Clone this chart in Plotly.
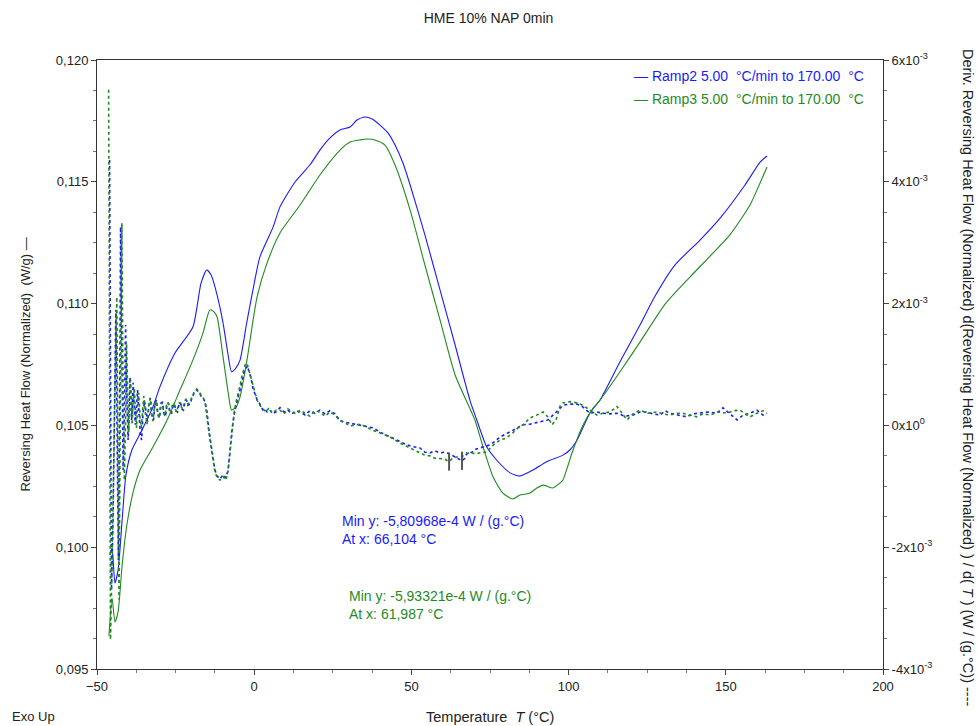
import plotly.graph_objects as go

# ---- chart text ----
title_text = "HME 10% NAP 0min"
ramp_labels = ["Ramp2 5.00\u00a0\u00a0°C/min to 170.00\u00a0\u00a0°C",
               "Ramp3 5.00\u00a0\u00a0°C/min to 170.00\u00a0\u00a0°C"]
series_colors = ["#1a1aff", "#1f8a1f"]

# ---- axis ticks ----
x_ticks = [-50, 0, 50, 100, 150, 200]
left_ticks = [0.095, 0.100, 0.105, 0.110, 0.115, 0.120]
left_tick_text = ["0,095", "0,100", "0,105", "0,110", "0,115", "0,120"]
right_ticks = [-4e-3, -2e-3, 0.0, 2e-3, 4e-3, 6e-3]
right_tick_text = ["-4x10<sup>-3</sup>", "-2x10<sup>-3</sup>", "0x10<sup>0</sup>",
                   "2x10<sup>-3</sup>", "4x10<sup>-3</sup>", "6x10<sup>-3</sup>"]

# ---- Reversing heat flow (W/g) vs temperature (°C) ----
ramp2_rhf = [(-45.9, 0.09968), (-45.2, 0.09997), (-44.3, 0.09853), (-43.3, 0.09906),
             (-42.0, 0.10112), (-40.8, 0.10296), (-38.9, 0.10399), (-36.0, 0.10473),
             (-32.2, 0.10576), (-30.0, 0.10658), (-25.2, 0.10797), (-19.5, 0.10904),
             (-16.9, 0.11085), (-15.1, 0.11138), (-13.7, 0.11117), (-11.8, 0.11035),
             (-9.9, 0.10920), (-8.3, 0.10789), (-7.2, 0.10720), (-5.8, 0.10736),
             (-4.5, 0.10768), (-2.4, 0.10920), (-0.4, 0.11056), (1.8, 0.11191),
             (6.0, 0.11314), (8.2, 0.11397), (13.0, 0.11499), (17.7, 0.11569),
             (20.9, 0.11630), (24.1, 0.11680), (27.3, 0.11713), (30.5, 0.11725),
             (32.7, 0.11754), (35.2, 0.11766), (37.5, 0.11758), (40.0, 0.11733),
             (42.6, 0.11700), (44.8, 0.11651), (47.3, 0.11577), (49.6, 0.11487),
             (54.3, 0.11282), (59.1, 0.11056), (63.9, 0.10830), (68.6, 0.10604),
             (70.8, 0.10522), (73.9, 0.10413), (77.1, 0.10358), (81.4, 0.10305),
             (84.5, 0.10292), (88.7, 0.10317), (93.0, 0.10351), (98.2, 0.10378),
             (100.4, 0.10399), (102.7, 0.10440), (106.8, 0.10551), (110.0, 0.10604),
             (116.3, 0.10760), (122.7, 0.10912), (127.5, 0.11031), (133.8, 0.11158),
             (141.8, 0.11261), (148.2, 0.11351), (156.1, 0.11487), (160.9, 0.11581),
             (163.1, 0.11606)]

ramp3_rhf = [(-46.2, 0.09635), (-45.2, 0.09791), (-44.3, 0.09693), (-43.3, 0.09734),
             (-42.0, 0.09927), (-40.5, 0.10091), (-38.5, 0.10227), (-36.3, 0.10317),
             (-32.2, 0.10411), (-27.7, 0.10522), (-23.6, 0.10645), (-19.5, 0.10768),
             (-16.3, 0.10879), (-14.1, 0.10974), (-12.8, 0.10966), (-11.8, 0.10945),
             (-9.9, 0.10781), (-8.3, 0.10637), (-7.2, 0.10563), (-5.8, 0.10575),
             (-4.5, 0.10617), (-2.3, 0.10768), (0.9, 0.11027), (4.1, 0.11167),
             (8.2, 0.11290), (14.6, 0.11405), (20.9, 0.11528), (27.3, 0.11630),
             (30.5, 0.11663), (33.7, 0.11672), (36.2, 0.11676), (38.4, 0.11672),
             (41.6, 0.11651), (44.8, 0.11569), (49.6, 0.11384), (54.3, 0.11158),
             (59.1, 0.10933), (63.9, 0.10707), (70.2, 0.10522), (72.8, 0.10411),
             (76.0, 0.10288), (79.1, 0.10222), (82.3, 0.10198), (84.5, 0.10214),
             (87.7, 0.10222), (89.9, 0.10243), (91.9, 0.10255), (95.0, 0.10243),
             (97.3, 0.10264), (98.2, 0.10276), (101.4, 0.10399), (104.6, 0.10502),
             (107.8, 0.10571), (110.0, 0.10604), (116.3, 0.10719), (122.7, 0.10842),
             (130.7, 0.10998), (138.6, 0.11109), (145.0, 0.11195), (151.3, 0.11282),
             (157.7, 0.11405), (160.9, 0.11495), (163.1, 0.11561)]

# ---- d(RHF)/dT, in units of 1e-3 W/(g.°C) ----
ramp2_deriv = [(-46.0, 4.36), (-45.7, 0.09), (-45.4, -2.70), (-44.9, -1.55), (-44.4, 0.09),
               (-44.0, 1.90), (-43.5, -0.73), (-43.2, -2.21), (-42.8, 0.42), (-42.5, 3.26),
               (-42.0, 0.75), (-41.7, -0.73), (-41.3, 0.20), (-40.9, 1.65), (-40.5, 0.42),
               (-40.1, -0.24), (-39.8, 0.25), (-39.5, 0.79), (-39.2, 0.42), (-39.0, 0.09),
               (-38.7, 0.42), (-38.5, 0.70), (-38.1, 0.25), (-37.8, 0.01), (-37.4, 0.33),
               (-37.1, 0.58), (-36.6, 0.17), (-36.2, -0.16), (-35.8, -0.24), (-35.4, 0.17),
               (-34.9, 0.40), (-34.4, 0.22), (-33.9, 0.06), (-33.5, 0.33), (-33.0, 0.45),
               (-32.5, 0.17), (-32.0, 0.09), (-31.6, 0.35), (-31.1, 0.42), (-30.6, 0.19),
               (-30.1, 0.12), (-29.6, 0.37), (-29.2, 0.38), (-28.7, 0.20), (-28.2, 0.15),
               (-27.7, 0.35), (-27.3, 0.37), (-26.8, 0.22), (-26.3, 0.19), (-25.8, 0.33),
               (-25.4, 0.35), (-24.9, 0.24), (-24.4, 0.22), (-23.9, 0.35), (-23.4, 0.37),
               (-23.0, 0.27), (-22.5, 0.25), (-22.0, 0.38), (-21.5, 0.42), (-21.1, 0.33),
               (-20.4, 0.35), (-19.8, 0.45), (-19.1, 0.53), (-18.3, 0.58), (-17.6, 0.55),
               (-16.9, 0.48), (-16.3, 0.45), (-15.6, 0.38), (-15.0, 0.22), (-14.4, -0.08),
               (-13.7, -0.32), (-13.1, -0.54), (-12.5, -0.73), (-11.8, -0.83), (-10.9, -0.88),
               (-9.9, -0.81), (-9.0, -0.86), (-8.3, -0.73), (-7.7, -0.40), (-7.1, -0.08),
               (-6.4, 0.17), (-5.8, 0.33), (-5.2, 0.45), (-4.5, 0.58), (-3.9, 0.75),
               (-3.2, 0.88), (-2.6, 0.94), (-2.1, 0.98), (-1.7, 0.88), (-1.0, 0.78),
               (-0.4, 0.61), (0.3, 0.50), (0.9, 0.42), (1.5, 0.38), (2.2, 0.32),
               (2.8, 0.25), (3.4, 0.27), (4.1, 0.22), (5.0, 0.25), (6.0, 0.19),
               (6.9, 0.22), (8.2, 0.29), (9.5, 0.22), (10.7, 0.25), (12.0, 0.19),
               (13.3, 0.24), (14.6, 0.22), (16.2, 0.17), (17.7, 0.24), (19.3, 0.20),
               (20.9, 0.25), (22.5, 0.19), (24.1, 0.24), (25.7, 0.19), (27.3, 0.07),
               (30.5, 0.04), (33.7, 0.01), (37.8, -0.04), (40.0, -0.11), (43.2, -0.19),
               (46.4, -0.26), (48.6, -0.32), (50.5, -0.35), (52.7, -0.37), (54.3, -0.44),
               (55.9, -0.45), (57.5, -0.42), (59.1, -0.45), (60.7, -0.44), (62.3, -0.47),
               (63.9, -0.52), (64.8, -0.54), (66.104, -0.580968), (67.0, -0.54), (67.7, -0.45),
               (69.3, -0.44), (70.5, -0.39), (71.8, -0.37), (73.4, -0.35), (75.0, -0.32),
               (76.6, -0.26), (78.2, -0.19), (80.1, -0.14), (82.3, -0.08), (83.9, -0.04),
               (85.5, 0.01), (87.7, 0.02), (90.9, 0.06), (93.4, 0.09), (95.7, 0.20),
               (97.3, 0.29), (98.2, 0.33), (100.4, 0.35), (102.7, 0.35), (104.6, 0.30),
               (106.8, 0.20), (109.0, 0.22), (110.9, 0.20), (113.2, 0.19), (115.4, 0.20),
               (117.9, 0.15), (120.5, 0.17), (122.7, 0.22), (124.9, 0.22), (126.8, 0.19),
               (129.1, 0.17), (130.7, 0.24), (132.2, 0.20), (134.8, 0.17), (137.6, 0.14),
               (139.6, 0.19), (141.8, 0.20), (144.3, 0.22), (147.2, 0.20), (149.1, 0.29),
               (151.3, 0.19), (153.6, 0.09), (155.5, 0.17), (157.7, 0.20), (159.9, 0.25),
               (161.8, 0.17), (163.1, 0.20)]

ramp3_deriv = [(-46.3, 5.51), (-46.0, 0.75), (-45.7, -3.52), (-45.2, -2.21), (-44.8, -0.73),
               (-44.3, 0.58), (-43.7, 2.11), (-43.3, -0.90), (-43.0, -2.86), (-42.6, 0.09),
               (-42.1, 3.32), (-41.7, 0.58), (-41.3, -0.90), (-40.9, 0.09), (-40.6, 1.35),
               (-40.1, 0.25), (-39.9, -0.11), (-39.6, 0.33), (-39.3, 0.75), (-39.0, 0.25),
               (-38.8, 0.01), (-38.5, 0.42), (-38.1, 0.61), (-37.8, 0.22), (-37.4, -0.04),
               (-37.1, 0.33), (-36.7, 0.53), (-36.3, 0.12), (-35.9, -0.04), (-35.5, 0.25),
               (-35.1, 0.48), (-34.6, 0.19), (-34.1, 0.02), (-33.6, 0.30), (-33.1, 0.45),
               (-32.7, 0.19), (-32.2, 0.07), (-31.7, 0.32), (-31.2, 0.40), (-30.8, 0.20),
               (-30.3, 0.12), (-29.8, 0.33), (-29.3, 0.37), (-28.8, 0.22), (-28.4, 0.15),
               (-27.9, 0.33), (-27.4, 0.38), (-26.9, 0.24), (-26.5, 0.19), (-26.0, 0.35),
               (-25.5, 0.37), (-25.0, 0.25), (-24.6, 0.22), (-24.1, 0.35), (-23.6, 0.38),
               (-23.1, 0.29), (-22.6, 0.27), (-22.2, 0.40), (-21.7, 0.43), (-21.1, 0.35),
               (-20.4, 0.38), (-19.8, 0.47), (-19.1, 0.55), (-18.3, 0.60), (-17.6, 0.56),
               (-16.9, 0.50), (-16.3, 0.47), (-15.6, 0.37), (-15.0, 0.17), (-14.4, -0.11),
               (-13.7, -0.37), (-13.1, -0.60), (-12.5, -0.76), (-11.8, -0.86), (-10.9, -0.90),
               (-9.9, -0.84), (-9.0, -0.90), (-8.3, -0.75), (-7.7, -0.42), (-7.1, -0.06),
               (-6.4, 0.20), (-5.8, 0.38), (-5.2, 0.50), (-4.5, 0.65), (-3.9, 0.81),
               (-3.2, 0.94), (-2.8, 1.01), (-2.3, 1.02), (-1.7, 0.91), (-1.0, 0.79),
               (-0.4, 0.65), (0.3, 0.52), (0.9, 0.42), (1.5, 0.35), (2.2, 0.30),
               (2.8, 0.27), (3.8, 0.22), (4.7, 0.29), (5.7, 0.20), (6.9, 0.25),
               (8.2, 0.25), (9.5, 0.19), (10.7, 0.27), (12.0, 0.22), (13.3, 0.19),
               (14.6, 0.25), (16.2, 0.20), (17.7, 0.15), (19.3, 0.24), (20.9, 0.22),
               (22.5, 0.15), (24.1, 0.22), (25.7, 0.17), (27.3, 0.09), (30.5, -0.01),
               (33.7, 0.02), (37.8, -0.08), (40.0, -0.12), (43.2, -0.19), (46.4, -0.29),
               (48.6, -0.35), (50.5, -0.40), (52.7, -0.45), (54.3, -0.49), (55.9, -0.50),
               (57.5, -0.54), (59.1, -0.54), (60.4, -0.55), (61.987, -0.593321), (62.9, -0.55),
               (64.2, -0.52), (65.5, -0.52), (67.0, -0.49), (68.6, -0.44), (70.2, -0.47),
               (71.8, -0.45), (74.0, -0.44), (75.6, -0.34), (78.2, -0.24), (80.1, -0.21),
               (82.3, -0.12), (83.9, -0.04), (85.5, 0.01), (87.7, 0.12), (89.9, 0.17),
               (91.9, 0.22), (93.4, 0.14), (94.7, 0.01), (96.0, 0.09), (97.3, 0.32),
               (98.2, 0.37), (100.4, 0.39), (102.7, 0.37), (104.6, 0.33), (106.8, 0.25),
               (109.0, 0.17), (110.9, 0.20), (113.2, 0.22), (115.4, 0.31), (117.0, 0.19),
               (118.6, 0.09), (120.5, 0.19), (122.7, 0.25), (125.2, 0.20), (128.1, 0.22),
               (130.0, 0.19), (132.2, 0.17), (134.5, 0.20), (136.4, 0.20), (138.6, 0.17),
               (140.8, 0.14), (142.7, 0.19), (145.0, 0.17), (147.5, 0.22), (150.4, 0.20),
               (152.3, 0.24), (154.5, 0.25), (156.1, 0.19), (157.7, 0.14), (159.9, 0.20),
               (161.8, 0.24), (163.1, 0.22)]

# minimum of each derivative curve: (temperature °C, value W/(g.°C))
deriv_minima = [(66.104, -5.80968e-4), (61.987, -5.93321e-4)]

DERIV_SCALE = 1e-3
FONT = "Liberation Sans, Arial, Helvetica, sans-serif"


def unzip(pairs, scale=1.0):
    return [p[0] for p in pairs], [p[1] * scale for p in pairs]


fig = go.Figure()

for pairs, color in ((ramp2_deriv, series_colors[0]), (ramp3_deriv, series_colors[1])):
    xs, ys = unzip(pairs, DERIV_SCALE)
    fig.add_trace(go.Scatter(x=xs, y=ys, yaxis="y2", mode="lines",
                             line=dict(color=color, width=1.6, dash="dot"),
                             hoverinfo="skip"))

for pairs, color in ((ramp2_rhf, series_colors[0]), (ramp3_rhf, series_colors[1])):
    xs, ys = unzip(pairs)
    fig.add_trace(go.Scatter(x=xs, y=ys, mode="lines",
                             line=dict(color=color, width=1.1, shape="spline", smoothing=0.6),
                             hoverinfo="skip"))

# markers at the derivative minima
fig.add_trace(go.Scatter(x=[m[0] for m in deriv_minima], y=[m[1] for m in deriv_minima],
                         yaxis="y2", mode="markers",
                         marker=dict(symbol="line-ns-open", size=13, color="#555555",
                                     line=dict(color="#555555", width=2)),
                         hoverinfo="skip"))


def comma(num, fmt):
    return format(num, fmt).replace(".", ",")


annotations = []
# legend entries
for i, (label, color) in enumerate(zip(ramp_labels, series_colors)):
    annotations.append(dict(xref="paper", yref="paper", x=0.979, y=0.9737 - i * 0.0385,
                            xanchor="right", yanchor="middle", showarrow=False,
                            text="\u2014 " + label, font=dict(color=color, size=14)))

# minimum readouts
readout_pos = [(0.309, 0.228), (0.318, 0.105)]
for (t_min, d_min), color, (px, py) in zip(deriv_minima, series_colors, readout_pos):
    mant = d_min / 1e-4
    txt = ("Min y: " + comma(mant, ".5f") + "e-4 W / (g.°C)<br>"
           + "At x: " + comma(t_min, ".3f") + " °C")
    annotations.append(dict(xref="paper", yref="paper", x=px, y=py, xanchor="left",
                            yanchor="middle", align="left", showarrow=False,
                            text=txt, font=dict(color=color, size=14)))

# axis titles
annotations += [
    dict(xref="paper", yref="paper", x=-0.0916, y=0.50, textangle=-90, showarrow=False,
         xanchor="center", yanchor="middle",
         text="Reversing Heat Flow (Normalized)\u00a0\u00a0(W/g) \u2014",
         font=dict(size=13, color="#222")),
    dict(xref="paper", yref="paper", x=1.108, y=0.478, textangle=90, showarrow=False,
         xanchor="center", yanchor="middle",
         text=("Deriv. Reversing Heat Flow (Normalized) d(Reversing Heat Flow (Normalized) )"
               " / d( <i>T</i> ) (W / (g.°C)) ----"),
         font=dict(size=14.5, color="#222")),
    dict(xref="paper", yref="paper", x=0.5, y=-0.0788, showarrow=False,
         xanchor="center", yanchor="middle",
         text="Temperature\u00a0\u00a0<i>T</i> (°C)", font=dict(size=14.5, color="#222")),
    dict(xref="paper", yref="paper", x=-0.1107, y=-0.0788, showarrow=False,
         xanchor="left", yanchor="middle", text="Exo Up",
         font=dict(size=13, color="#222")),
]

axis_common = dict(showgrid=False, zeroline=False, showline=True, linecolor="#333",
                   linewidth=1, ticks="outside", ticklen=5, tickcolor="#444",
                   tickfont=dict(size=13, color="#222"))

fig.update_layout(
    width=977, height=726,
    margin=dict(l=97, r=94, t=60, b=57),
    paper_bgcolor="white", plot_bgcolor="white",
    showlegend=False,
    font=dict(family=FONT, size=13, color="#222"),
    title=dict(text=title_text, x=0.5, xanchor="center", y=0.975, yanchor="middle",
               font=dict(size=14, color="#222")),
    xaxis=dict(range=[-50, 200], tickvals=x_ticks, mirror=True,
               minor=dict(dtick=12.5, tick0=-50, ticks="outside", ticklen=3,
                          tickcolor="#777"),
               **axis_common),
    yaxis=dict(range=[0.095, 0.120], tickvals=left_ticks, ticktext=left_tick_text,
               minor=dict(dtick=0.00125, tick0=0.095, ticks="outside", ticklen=3,
                          tickcolor="#777"),
               **axis_common),
    yaxis2=dict(range=[-4e-3, 6e-3], overlaying="y", side="right",
                tickvals=right_ticks, ticktext=right_tick_text,
                minor=dict(dtick=0.5e-3, tick0=-4e-3, ticks="outside", ticklen=3,
                           tickcolor="#777"),
                **axis_common),
    annotations=annotations,
)

fig.write_html("out.html")
